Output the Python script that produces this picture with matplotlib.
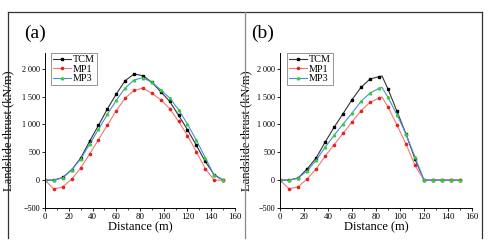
import numpy as np
import matplotlib
matplotlib.use("Agg")
import matplotlib.pyplot as plt
from matplotlib.lines import Line2D
from matplotlib.ticker import MultipleLocator, FuncFormatter

plt.rcParams['font.family'] = ['Liberation Serif', 'DejaVu Serif']

# ---- panel (a) ----
xa = [0, 7.5, 15, 22.5, 30, 37.5, 45, 52.5, 60, 67.5, 75, 82.5, 90, 97.5,
      105, 112.5, 120, 127.5, 135, 142.5, 150]
tcm_a = [0, 0, 48, 186, 395, 695, 982, 1276, 1545, 1785, 1905, 1875, 1755, 1587,
         1414, 1162, 905, 623, 335, 96, 0]
mp1_a = [0, -162, -120, 18, 216, 467, 725, 988, 1246, 1473, 1611, 1653, 1557, 1444,
         1282, 1054, 797, 509, 204, 0, 0]
mp3_a = [0, 0, 42, 186, 377, 641, 910, 1180, 1432, 1653, 1797, 1839, 1755, 1623,
         1474, 1264, 1006, 713, 401, 84, 0]

# ---- panel (b) ----
xb = [0, 7.5, 15, 22.5, 30, 37.5, 45, 52.5, 60, 67.5, 75, 82.5, 85, 90, 97.5,
      105, 112.5, 120, 127.5, 135, 142.5, 150]
tcm_b = [0, 0, 36, 198, 395, 677, 946, 1192, 1444, 1665, 1815, 1857, 1869, 1635, 1234,
         827, 377, 0, 0, 0, 0, 0]
mp1_b = [0, -156, -120, 18, 198, 425, 635, 839, 1042, 1246, 1396, 1474, 1491, 1312, 988,
         647, 264, 0, 0, 0, 0, 0]
mp3_b = [0, 0, 36, 162, 353, 587, 803, 1006, 1204, 1414, 1563, 1647, 1665, 1485, 1174,
         827, 413, 0, 0, 0, 0, 0]

names = ['TCM', 'MP1', 'MP3']


def fmt(v, pos):
    v = int(round(v))
    if v < 0:
        return '\u2212' + str(-v)
    if v >= 1000:
        return '{} {:03d}'.format(v // 1000, v % 1000)
    return str(v)


def draw(ax, x, series, leg_anchor, ylab_x):
    x = np.array(x)
    marks = [i for i, v in enumerate(x) if abs(v / 7.5 - round(v / 7.5)) < 1e-6]
    ax.plot(x, series[0], color='#333333', lw=0.8, marker='s', ms=1.5,
            mfc='black', mec='black', markevery=marks, label=names[0])
    ax.plot(x, series[1], color='#f07878', lw=0.8, marker='o', ms=1.6,
            mfc='#e82020', mec='#e82020', markevery=marks, label=names[1])
    ax.plot(x, series[2], color='#4a8fd8', lw=0.8, marker='^', ms=1.8,
            mfc='#30d030', mec='#30d030', markevery=marks, label=names[2])
    ax.set_xlim(0, 160)
    ax.set_ylim(-500, 2280)
    ax.xaxis.set_major_locator(MultipleLocator(20))
    ax.xaxis.set_minor_locator(MultipleLocator(10))
    ax.set_yticks([-500, 0, 500, 1000, 1500, 2000])
    ax.yaxis.set_major_formatter(FuncFormatter(fmt))
    for s in ['top', 'right']:
        ax.spines[s].set_visible(False)
    for s in ['left', 'bottom']:
        ax.spines[s].set_linewidth(0.7)
    ax.tick_params(axis='both', which='major', labelsize=6.4, length=2.5, width=0.6, pad=1)
    ax.tick_params(axis='y', which='major', labelsize=5.9)
    ax.tick_params(axis='both', which='minor', length=1.5, width=0.5)
    ax.set_xlabel('Distance (m)', fontsize=9, labelpad=0)
    ax.set_ylabel('Landslide thrust (kN/m)', fontsize=9)
    ax.yaxis.set_label_coords(ylab_x, 0.5)
    leg = ax.legend(loc='upper left', bbox_to_anchor=leg_anchor, fontsize=7.3,
                    frameon=True, fancybox=False, edgecolor='#666666',
                    handlelength=1.8, handletextpad=0.2, borderpad=0.2,
                    labelspacing=0.05, borderaxespad=0)
    leg.get_frame().set_linewidth(0.6)


fig = plt.figure(figsize=(4.94, 2.47), dpi=100)
ax1 = fig.add_axes([0.0911, 0.158, 0.3846, 0.627])
ax2 = fig.add_axes([0.5668, 0.158, 0.3887, 0.627])

draw(ax1, xa, [tcm_a, mp1_a, mp3_a], (0.03, 1.0), -0.16)
draw(ax2, xb, [tcm_b, mp1_b, mp3_b], (0.035, 1.0), -0.145)

fig.text(24 / 494, 1 - 33 / 247, '(a)', fontsize=14, va='center', ha='left')
fig.text(251 / 494, 1 - 33 / 247, '(b)', fontsize=14, va='center', ha='left')

# frame around the panels
W, H = 494.0, 247.0
xl, xr, xm = 8 / W, 482 / W, 245 / W
yt, yb = 1 - 12 / H, 1 - 238 / H
fig.add_artist(Line2D([xl, xr], [yt, yt], color='#333333', lw=0.9))
fig.add_artist(Line2D([xl, xl], [yt, yb], color='#333333', lw=0.9))
fig.add_artist(Line2D([xr, xr], [yt, yb], color='#333333', lw=0.9))
fig.add_artist(Line2D([xm, xm], [yt, yb], color='#888888', lw=0.9))

fig.savefig('out.png', dpi=100)
